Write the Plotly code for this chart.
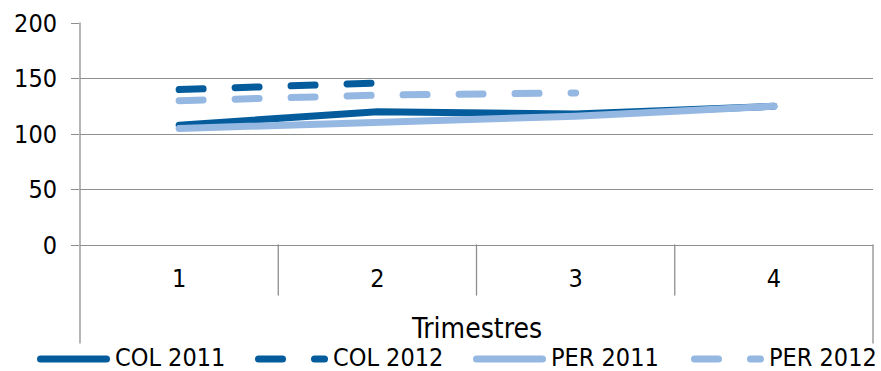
import plotly.graph_objects as go

# Quarterly index values, 2011 vs 2012, Colombia and Peru
trimestres = [1, 2, 3, 4]
tick_labels = ["1", "2", "3", "4"]
col_2011 = [108, 120, 118, 125]
col_2012 = [140, 146, None, None]
per_2011 = [105, 110, 116, 125]
per_2012 = [130, 135, 137, None]
y_ticks = [0, 50, 100, 150, 200]

series_names = ["COL 2011", "COL 2012", "PER 2011", "PER 2012"]
series_values = [col_2011, col_2012, per_2011, per_2012]

DARK = "#045C9C"
LIGHT = "#95B8E3"
GRID = "#8E8E8E"
FONT = "DejaVu Sans Condensed, DejaVu Sans, sans-serif"
FS = 25
DASH = "24px,32px"
styles = [
    dict(color=DARK, dash="solid"),
    dict(color=DARK, dash=DASH),
    dict(color=LIGHT, dash="solid"),
    dict(color=LIGHT, dash=DASH),
]
LINE_W = 7

W, H = 881, 371
ML, MR, MT, MB = 80, 8, 23, 126
PW, PH = W - ML - MR, H - MT - MB


def px_x(px):
    return (px - ML) / PW


def px_y(py):
    return (H - MB - py) / PH


fig = go.Figure()
for name, vals, st in zip(series_names, series_values, styles):
    fig.add_trace(go.Scatter(
        x=trimestres, y=vals, name=name, mode="lines",
        line=dict(color=st["color"], width=LINE_W, dash=st["dash"]),
        connectgaps=False, showlegend=False, hoverinfo="skip",
    ))

shapes = []
# category dividers below the axis
for i in range(len(trimestres) - 1):
    xb = trimestres[i] + 0.5
    shapes.append(dict(type="line", xref="x", yref="paper", x0=xb, x1=xb,
                       y0=0, y1=px_y(295), line=dict(color=GRID, width=1.3)))
# left frame line (full height) and right frame line (below the axis)
shapes.append(dict(type="line", xref="paper", yref="paper", x0=0, x1=0,
                   y0=1, y1=px_y(343), line=dict(color=GRID, width=1.3)))
shapes.append(dict(type="line", xref="paper", yref="paper", x0=1, x1=1,
                   y0=0, y1=px_y(343), line=dict(color=GRID, width=1.3)))

# legend row
annotations = []
leg_line_y = px_y(359)
leg_text_y = px_y(357)
for i, (name, st) in enumerate(zip(series_names, styles)):
    x0 = 37 + 218 * i
    shapes.append(dict(type="line", xref="paper", yref="paper",
                       x0=px_x(x0 + 3.5), x1=px_x(x0 + 73 - 3.5),
                       y0=leg_line_y, y1=leg_line_y,
                       line=dict(color=st["color"], width=LINE_W, dash=st["dash"])))
    annotations.append(dict(text=name, xref="paper", yref="paper",
                            x=px_x(x0 + 76), y=leg_text_y, xanchor="left", yanchor="middle",
                            showarrow=False, font=dict(family=FONT, size=FS, color="#000")))

annotations.append(dict(text="Trimestres", xref="paper", yref="paper",
                        x=0.5, y=px_y(328), xanchor="center", yanchor="middle",
                        showarrow=False, font=dict(family=FONT, size=28, color="#000")))

fig.update_layout(
    width=W, height=H,
    margin=dict(l=ML, r=MR, t=MT, b=MB, pad=0),
    paper_bgcolor="white", plot_bgcolor="white",
    font=dict(family=FONT, size=FS, color="#000"),
    showlegend=False,
    shapes=shapes, annotations=annotations,
    xaxis=dict(
        range=[0.5, 4.5], tickvals=trimestres, ticktext=tick_labels,
        showgrid=False, zeroline=False,
        showline=True, linecolor=GRID, linewidth=1.3,
        ticks="outside", ticklen=0, ticklabelstandoff=11,
        tickfont=dict(family=FONT, size=FS, color="#000"),
    ),
    yaxis=dict(
        range=[0, 200], tickvals=y_ticks,
        showgrid=True, gridcolor=GRID, gridwidth=1.3,
        zeroline=False, showline=False,
        ticks="outside", ticklen=8, tickcolor=GRID, tickwidth=1.3,
        ticklabelstandoff=9,
        tickfont=dict(family=FONT, size=FS, color="#000"),
    ),
)

round_caps = ("document.querySelectorAll('path.js-line, .shapelayer path')"
              ".forEach(function(p){p.style.strokeLinecap='round';});")
fig.write_html("out.html", post_script=round_caps)
